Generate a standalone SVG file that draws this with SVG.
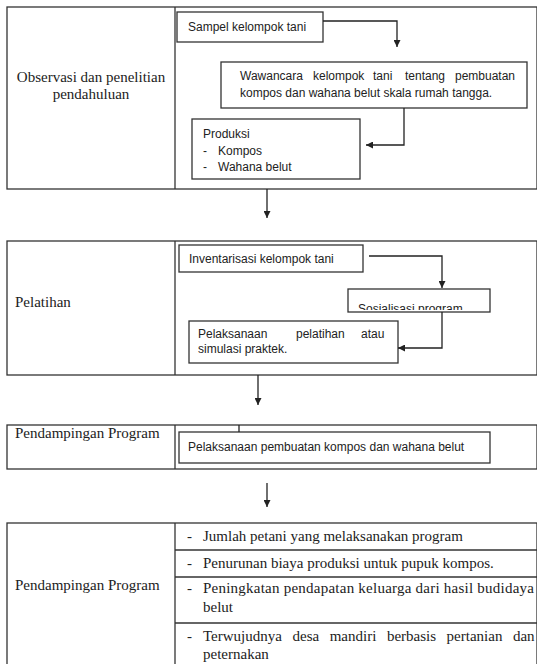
<svg xmlns="http://www.w3.org/2000/svg" width="537" height="664" viewBox="0 0 537 664">
<style>
.frame{fill:none;stroke:#333;stroke-width:1.3}
.box{fill:#fff;stroke:#333;stroke-width:1.3}
.serif{font-family:"Liberation Serif","DejaVu Serif",serif;font-size:15px;fill:#222}
.sans{font-family:"Liberation Sans","DejaVu Sans",sans-serif;font-size:12px;fill:#222}
.conn{fill:none;stroke:#222;stroke-width:1.3}
</style>
<defs>
<marker id="ah" viewBox="0 0 10 10" refX="10" refY="5" markerWidth="7" markerHeight="7" orient="auto" markerUnits="userSpaceOnUse">
<path d="M0,0 L10,5 L0,10 z" fill="#222"/>
</marker>
<clipPath id="sosclip"><rect x="348" y="289" width="142" height="21"/></clipPath>
</defs>
<rect width="537" height="664" fill="#fff"/>

<g id="section1">
<rect class="frame" x="7" y="7" width="530" height="182"/>
<line class="frame" x1="175" y1="7" x2="175" y2="189"/>
<text class="serif" x="91" y="82" text-anchor="middle">Observasi dan penelitian</text>
<text class="serif" x="91" y="99" text-anchor="middle">pendahuluan</text>
</g>
<g id="sampel">
<rect class="box" x="177" y="12" width="146" height="30"/>
<text class="sans" x="188" y="31">Sampel kelompok tani</text>
</g>
<g id="wawancara">
<rect class="box" x="221" y="62" width="306" height="46"/>
<text class="sans" y="80"><tspan x="240">Wawancara</tspan><tspan x="313">kelompok</tspan><tspan x="373">tani</tspan><tspan x="405">tentang</tspan><tspan x="455">pembuatan</tspan></text>
<text class="sans" x="240" y="97">kompos dan wahana belut skala rumah tangga.</text>
</g>
<g id="produksi">
<rect class="box" x="192" y="119" width="168" height="60"/>
<text class="sans" x="203" y="138">Produksi</text>
<text class="sans" x="203" y="155">-</text>
<text class="sans" x="218" y="155">Kompos</text>
<text class="sans" x="203" y="171">-</text>
<text class="sans" x="218" y="171">Wahana belut</text>
</g>

<g id="section2">
<rect class="frame" x="7" y="241" width="530" height="134"/>
<line class="frame" x1="175" y1="241" x2="175" y2="375"/>
<text class="serif" x="15" y="307">Pelatihan</text>
</g>
<g id="inventarisasi">
<rect class="box" x="179" y="245" width="184" height="27"/>
<text class="sans" x="189" y="263">Inventarisasi  kelompok  tani</text>
</g>
<g id="sosialisasi">
<rect class="box" x="348" y="289" width="142" height="23"/>
<text class="sans" x="358" y="313" clip-path="url(#sosclip)">Sosialisasi  program</text>
</g>
<g id="pelaksanaan">
<rect class="box" x="189" y="321" width="209" height="42"/>
<text class="sans" y="338"><tspan x="198">Pelaksanaan</tspan><tspan x="296">pelatihan</tspan><tspan x="361">atau</tspan></text>
<text class="sans" x="198" y="353">simulasi praktek.</text>
</g>

<g id="section3">
<rect class="frame" x="7" y="425" width="530" height="44"/>
<line class="frame" x1="175" y1="425" x2="175" y2="469"/>
<text class="serif" x="15" y="438">Pendampingan Program</text>
</g>
<g id="pembuatan">
<rect class="box" x="179" y="432" width="311" height="31"/>
<text class="sans" x="188" y="451">Pelaksanaan pembuatan  kompos  dan wahana belut</text>
</g>

<g id="section4">
<rect class="frame" x="7" y="523" width="530" height="145"/>
<line class="frame" x1="175" y1="523" x2="175" y2="664"/>
<line class="frame" x1="175" y1="550" x2="537" y2="550"/>
<line class="frame" x1="175" y1="577" x2="537" y2="577"/>
<line class="frame" x1="175" y1="623" x2="537" y2="623"/>
<text class="serif" x="15" y="590">Pendampingan Program</text>
<text class="serif" x="187" y="541">-</text>
<text class="serif" x="203" y="541">Jumlah petani yang melaksanakan program</text>
<text class="serif" x="187" y="568">-</text>
<text class="serif" x="203" y="568">Penurunan biaya produksi untuk pupuk kompos.</text>
<text class="serif" x="187" y="593">-</text>
<text class="serif" x="203" y="593" textLength="331" lengthAdjust="spacing">Peningkatan pendapatan keluarga dari hasil budidaya</text>
<text class="serif" x="203" y="612">belut</text>
<text class="serif" x="187" y="641">-</text>
<text class="serif" x="203" y="641" word-spacing="6.8">Terwujudnya desa mandiri berbasis pertanian dan</text>
<text class="serif" x="203" y="659">peternakan</text>
</g>

<g id="connectors">
<polyline class="conn" points="323,21 397,21 397,47" marker-end="url(#ah)"/>
<polyline class="conn" points="404,108 404,145 366,145" marker-end="url(#ah)"/>
<line class="conn" x1="267" y1="189" x2="267" y2="218" marker-end="url(#ah)"/>
<polyline class="conn" points="369,256 442,256 442,288" marker-end="url(#ah)"/>
<polyline class="conn" points="442,312 442,348 398,348" marker-end="url(#ah)"/>
<line class="conn" x1="258" y1="375" x2="258" y2="405" marker-end="url(#ah)"/>
<line class="conn" x1="239" y1="425" x2="239" y2="432"/>
<line class="conn" x1="267" y1="483" x2="267" y2="507" marker-end="url(#ah)"/>
</g>
</svg>
